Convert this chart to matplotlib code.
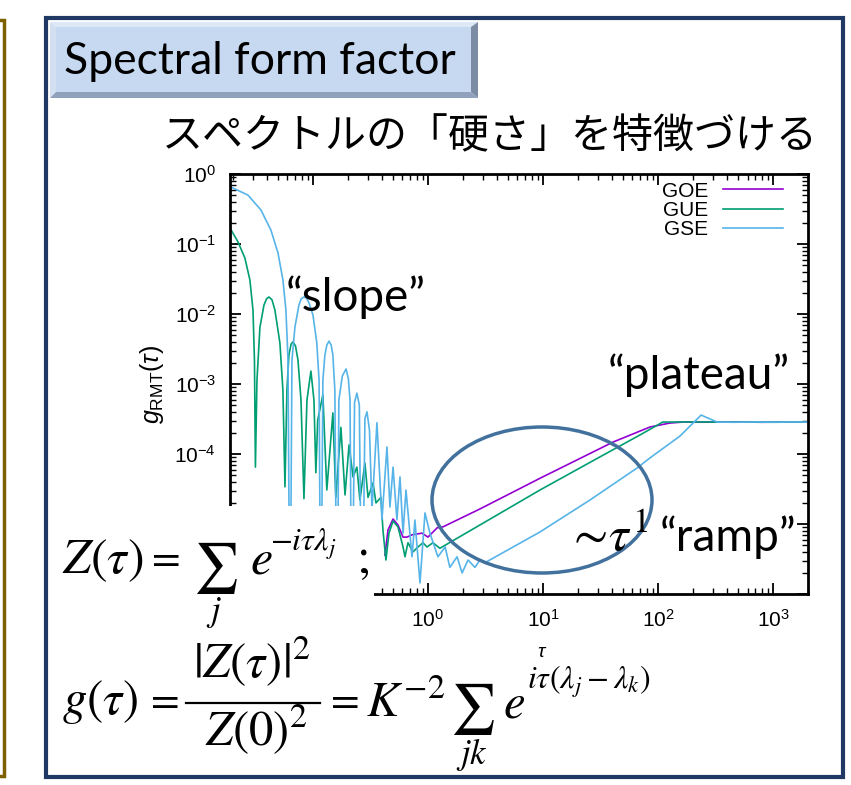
import numpy as np
import matplotlib.pyplot as plt
from matplotlib.patches import Rectangle, Ellipse, Polygon
from matplotlib.ticker import FuncFormatter

plt.rcParams['font.family'] = ['Liberation Sans', 'DejaVu Sans']
plt.rcParams['mathtext.fontset'] = 'custom'
plt.rcParams['mathtext.rm'] = 'Liberation Sans'
plt.rcParams['mathtext.it'] = 'Liberation Sans:italic'
plt.rcParams['mathtext.bf'] = 'Liberation Sans:bold'

# ---- spectral form factor g(tau), read as (tau, g) pairs ----
gse_tau = [0.019, 0.0272, 0.0353, 0.0431, 0.0497, 0.0548, 0.0582, 0.0607, 0.0631, 0.0657,
           0.0697, 0.0755, 0.0790, 0.0835, 0.0880, 0.0923, 0.100, 0.108, 0.113, 0.117,
           0.122, 0.127, 0.132, 0.138, 0.144, 0.149, 0.155, 0.162, 0.168, 0.180,
           0.194, 0.203, 0.210, 0.218, 0.230, 0.241, 0.253, 0.267, 0.283, 0.295,
           0.310, 0.326, 0.360, 0.398, 0.440, 0.467, 0.497, 0.537, 0.571, 0.607,
           0.644, 0.726, 0.770, 0.852, 0.942, 1.04, 1.22, 1.41, 1.55, 1.79,
           1.98, 2.23, 2.56, 2.83, 3.13, 9.42, 25.6, 65.7, 85.2, 155,
           237, 326, 450, 700, 1000, 1500, 2000]
gse_g = [0.66, 0.50, 0.306, 0.158, 0.0743, 0.0306, 0.0114, 0.0022, 1e-7, 0.0022,
         0.0065, 0.0134, 0.0165, 0.0175, 0.0168, 0.0144, 0.0097, 0.00385, 0.00114, 1e-7,
         0.00114, 0.0026, 0.0036, 0.0041, 0.0036, 0.0026, 8.2e-4, 1e-7, 5.9e-4, 0.0013,
         0.00164, 0.0012, 5.9e-4, 1e-7, 5.5e-4, 7.4e-4, 5.0e-4, 1e-7, 3.2e-4, 4.0e-4,
         2.2e-4, 1.6e-5, 2.8e-4, 1.15e-5, 1.26e-4, 1.75e-5, 6.5e-5, 1.15e-5, 4.7e-5, 7.4e-6,
         3.06e-5, 3.4e-6, 1.14e-5, 1.44e-6, 1.44e-5, 7.4e-6, 3.4e-6, 4.7e-6, 2.4e-6, 3.4e-6,
         2.0e-6, 3.06e-6, 2.4e-6, 3.06e-6, 2.8e-6, 7.7e-6, 2.2e-5, 6.3e-5, 8.8e-5, 1.8e-4,
         3.6e-4, 2.86e-4, 2.84e-4, 2.87e-4, 2.85e-4, 2.87e-4, 2.85e-4]

gue_tau = [0.019, 0.0223, 0.0256, 0.0283, 0.0301, 0.0310, 0.0316, 0.0326, 0.0346, 0.0375,
           0.0395, 0.0414, 0.0440, 0.0467, 0.0516, 0.0548, 0.0571, 0.0594, 0.0618, 0.0645,
           0.0670, 0.0705, 0.0741, 0.0787, 0.0835, 0.0887, 0.0960, 0.102, 0.106, 0.110,
           0.122, 0.132, 0.149, 0.158, 0.175, 0.190, 0.206, 0.223, 0.241, 0.256,
           0.283, 0.301, 0.333, 0.353, 0.390, 0.406, 0.431, 0.458, 0.497, 0.548,
           0.607, 0.631, 0.670, 0.741, 0.819, 0.905, 0.980, 1.105, 1.27, 9.42,
           31.3, 69.7, 110, 200, 450, 700, 1000, 1500, 2000]
gue_g = [0.169, 0.107, 0.063, 0.0306, 0.0114, 0.0022, 6.5e-5, 0.00114, 0.0065, 0.0134,
         0.0165, 0.0175, 0.0160, 0.0114, 0.00385, 8.2e-4, 3.4e-5, 8.2e-4, 0.0026, 0.0037,
         0.0040, 0.0035, 0.0022, 5.9e-4, 2.3e-5, 5.9e-4, 0.00153, 5.9e-4, 5.4e-5, 3.06e-4,
         7.0e-4, 3.06e-5, 3.86e-4, 2.4e-5, 2.4e-4, 2.6e-5, 1.35e-4, 4.7e-5, 6.5e-5, 2.2e-5,
         7.4e-5, 2.4e-5, 3.86e-5, 2.0e-5, 2.4e-5, 8.2e-6, 3.06e-6, 7.4e-6, 1.1e-5, 9.1e-6,
         4.7e-6, 3.4e-6, 5.4e-6, 4.0e-6, 4.7e-6, 5.4e-6, 4.7e-6, 5.4e-6, 4.5e-6, 3.06e-5,
         9.1e-5, 1.87e-4, 2.86e-4, 2.87e-4, 2.85e-4, 2.86e-4, 2.84e-4, 2.86e-4, 2.85e-4]

goe_tau = [0.423, 0.449, 0.497, 0.548, 0.607, 0.657, 0.726, 0.887, 1.0, 1.2,
           1.35, 2.83, 9.42, 40.6, 85.2, 127, 165, 300, 500, 800,
           1200, 2000]
goe_g = [3.6e-6, 8.2e-6, 1.18e-5, 9.7e-6, 6.5e-6, 6.5e-6, 7.0e-6, 7.4e-6, 6.5e-6, 8.8e-6,
         9.1e-6, 1.64e-5, 4.5e-5, 1.48e-4, 2.43e-4, 2.77e-4, 2.86e-4, 2.85e-4, 2.87e-4, 2.84e-4,
         2.86e-4, 2.85e-4]

W, H = 851, 785
fig = plt.figure(figsize=(W / 100, H / 100), dpi=100)
fig.patch.set_facecolor('white')

# gnuplot-style log-log panel
ax = fig.add_axes([230 / W, 1 - 594 / H, 578 / W, 420 / H])
ax.plot(goe_tau, goe_g, color='#9400D3', lw=1.2, label='GOE')
ax.plot(gue_tau, gue_g, color='#009E73', lw=1.2, label='GUE')
ax.plot(gse_tau, gse_g, color='#56B4E9', lw=1.2, label='GSE')
ax.set_xscale('log')
ax.set_yscale('log')
ax.set_xlim(0.019, 2014)
ax.set_ylim(1e-6, 1)
ax.set_xticks([0.1, 1, 10, 100, 1000])
ax.set_yticks([1e-6, 1e-5, 1e-4, 1e-3, 1e-2, 1e-1, 1])


def pow_label(v, pos, cut):
    # labels in the lower-left corner are covered by the formula panel
    if v < cut:
        return ''
    return r'$\mathdefault{10^{%d}}$' % int(round(np.log10(v)))


ax.yaxis.set_major_formatter(FuncFormatter(lambda v, p: pow_label(v, p, 10 ** -4.5)))
ax.xaxis.set_major_formatter(FuncFormatter(lambda v, p: pow_label(v, p, 0.5)))
for s in ax.spines.values():
    s.set_linewidth(2)
ax.tick_params(which='both', direction='in', top=True, right=True, labelsize=15)
ax.tick_params(which='major', length=8, width=1.3)
ax.tick_params(which='minor', length=4, width=1)
ax.tick_params(axis='x', pad=11)
ax.tick_params(axis='y', pad=10)
ax.set_ylabel(r'$\mathit{g}_{\mathrm{RMT}}(\tau)$', fontsize=18)
ax.yaxis.set_label_coords(-0.11, 0.5)
ax.set_xlabel(r'$\tau$', fontsize=14)
ax.xaxis.set_label_coords(0.54, -0.12)
ax.legend(loc='upper right', bbox_to_anchor=(0.957, 0.982), frameon=False,
          markerfirst=False, fontsize=15, handlelength=2.9, handletextpad=0.7,
          labelspacing=0.02, borderaxespad=0, borderpad=0)

# slide decoration and annotations, in pixel coordinates
ov = fig.add_axes([0, 0, 1, 1], zorder=5)
ov.set_xlim(0, W)
ov.set_ylim(H, 0)
ov.axis('off')
ov.patch.set_alpha(0)

ov.add_patch(Rectangle((-20, 20), 24, 756, fill=False, ec='#7F6000', lw=2.5))
ov.add_patch(Rectangle((46, 18), 797, 759, fill=False, ec='#203864', lw=3))

# bevelled title tab
ov.add_patch(Rectangle((56, 27), 415, 65, fc='#C6D9F1', ec='none'))
ov.add_patch(Polygon([(50, 22), (478, 22), (471, 27), (56, 27)], fc='#DDE8F6', ec='none'))
ov.add_patch(Polygon([(50, 22), (56, 27), (56, 92), (50, 98)], fc='#D3E0F2', ec='none'))
ov.add_patch(Polygon([(478, 22), (478, 98), (471, 92), (471, 27)], fc='#7C8CA3', ec='none'))
ov.add_patch(Polygon([(50, 98), (478, 98), (471, 92), (56, 92)], fc='#8FA1BB', ec='none'))
ov.text(64, 62, 'Spectral form factor', fontsize=32, family='Lato', va='center', ha='left')

ov.text(490, 137, 'スペクトルの「硬さ」を特徴づける', fontsize=29.5,
        family=['Noto Sans CJK JP', 'DejaVu Sans'], ha='center', va='center')

ov.text(286, 297, '“slope”', fontsize=33, family='Lato', va='center', ha='left')
ov.text(790, 375, '“plateau”', fontsize=33, family='Lato', va='center', ha='right')
ov.text(796, 537, '“ramp”', fontsize=33, family='Lato', va='center', ha='right')
ov.text(566, 551, r'$\sim\!\tau^{1}$', fontsize=36, math_fontfamily='stix', va='baseline', ha='left')
ov.add_patch(Ellipse((542, 500), 220, 146, fill=False, ec='#41719C', lw=2.5))

# formulas sit on a white panel over the plot corner
ov.add_patch(Rectangle((49, 506), 325, 134, fc='white', ec='none'))
mk = dict(math_fontfamily='stix', va='baseline')
ov.text(62, 573, r'$Z(\tau)$', fontsize=36, ha='left', **mk)
ov.text(162, 569, r'$=$', fontsize=30, ha='center', **mk)
ov.text(215, 568, r'$\sum$', fontsize=36, ha='center', math_fontfamily='stix', va='center')
ov.text(214, 621, r'$j$', fontsize=25, ha='center', **mk)
ov.text(250, 573, r'$e$', fontsize=36, ha='left', **mk)
ov.text(270, 551, r'$-i\tau\lambda_j$', fontsize=23, ha='left', **mk)
ov.text(356, 573, r'$;$', fontsize=36, ha='left', **mk)

ov.text(62, 714, r'$g(\tau)$', fontsize=35, ha='left', **mk)
ov.text(161, 711, r'$=$', fontsize=30, ha='center', **mk)
ov.text(252, 678, r'$|Z(\tau)|^2$', fontsize=35, ha='center', **mk)
ov.plot([186, 320], [703, 703], color='black', lw=1.6)
ov.text(256, 746, r'$Z(0)^2$', fontsize=35, ha='center', **mk)
ov.text(341, 711, r'$=$', fontsize=30, ha='center', **mk)
ov.text(366, 717, r'$K^{-2}$', fontsize=35, ha='left', **mk)
ov.text(472, 709, r'$\sum$', fontsize=36, ha='center', math_fontfamily='stix', va='center')
ov.text(472, 764, r'$jk$', fontsize=25, ha='center', **mk)
ov.text(503, 717, r'$e$', fontsize=35, ha='left', **mk)
ov.text(527, 689, r'$i\tau(\lambda_j-\lambda_k)$', fontsize=23, ha='left', **mk)

fig.savefig('out.png', dpi=100)
